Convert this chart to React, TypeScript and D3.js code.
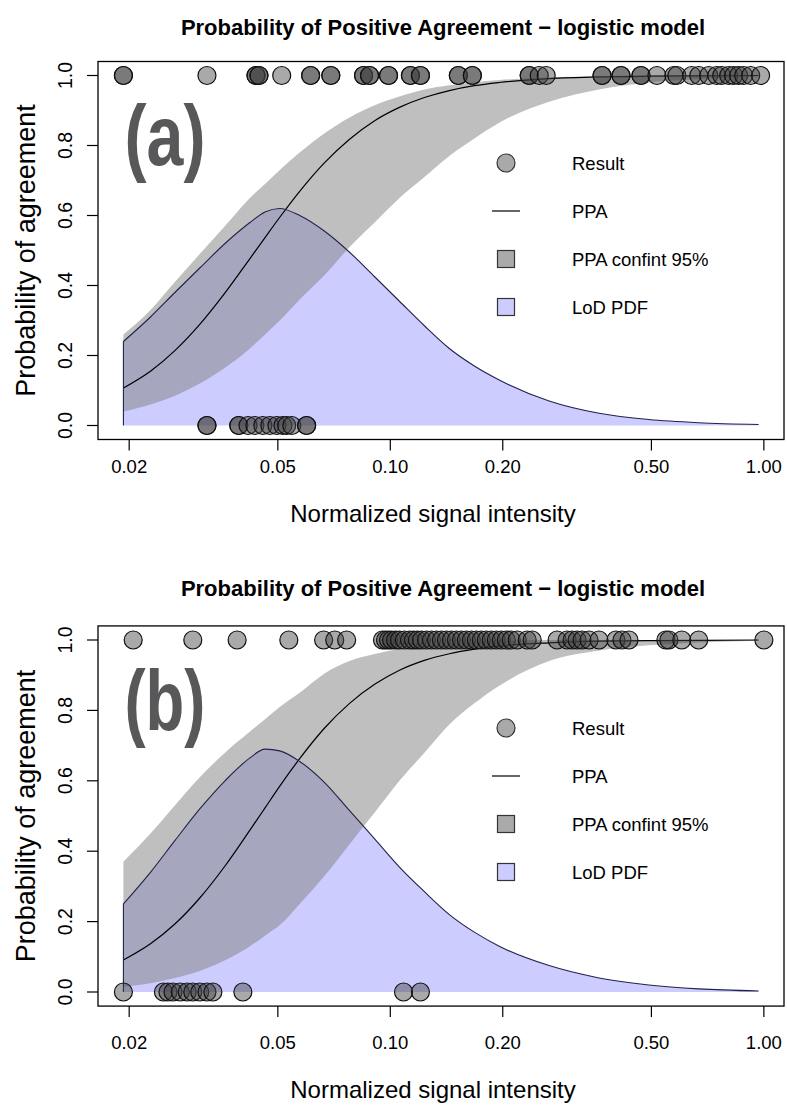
import * as d3 from "d3";
import React from "react";

// shared grid of signal intensities for the model curves
const xGrid = [0.0193, 0.0228, 0.0265, 0.0309, 0.0361, 0.0421, 0.0462, 0.0506, 0.0572, 0.0667, 0.0778, 0.0908, 0.1058, 0.1234, 0.1439, 0.1679, 0.1957, 0.2662, 0.362, 0.4924, 0.669, 0.968];

// panel (a)
const ppaA = [0.107, 0.155, 0.214, 0.289, 0.379, 0.477, 0.537, 0.595, 0.669, 0.751, 0.818, 0.871, 0.909, 0.937, 0.957, 0.971, 0.98, 0.991, 0.996, 0.998, 0.999, 1.0];
const upperA = [0.26, 0.33, 0.41, 0.49, 0.57, 0.65, 0.69, 0.73, 0.78, 0.835, 0.88, 0.915, 0.94, 0.96, 0.972, 0.981, 0.987, 0.995, 0.998, 1, 1, 1];
const lowerA = [0.04, 0.06, 0.085, 0.12, 0.165, 0.22, 0.26, 0.3, 0.36, 0.43, 0.51, 0.58, 0.65, 0.71, 0.77, 0.82, 0.865, 0.925, 0.96, 0.98, 0.99, 0.997];
const pdfA = [0.24, 0.31, 0.38, 0.45, 0.52, 0.58, 0.61, 0.62, 0.6, 0.555, 0.495, 0.425, 0.355, 0.285, 0.22, 0.17, 0.13, 0.07, 0.035, 0.017, 0.008, 0.003];
const posA = [0.0193, 0.0193, 0.0323, 0.0437, 0.0437, 0.0445, 0.0445, 0.0512, 0.0612, 0.0612, 0.0693, 0.0693, 0.0848, 0.0848, 0.088, 0.088, 0.0989, 0.0989, 0.1132, 0.1132, 0.1204, 0.1204, 0.1521, 0.1521, 0.1658, 0.1658, 0.2354, 0.2354, 0.2504, 0.2614, 0.3688, 0.3688, 0.4145, 0.4145, 0.4688, 0.4688, 0.5172, 0.5742, 0.5848, 0.6412, 0.6694, 0.7118, 0.7478, 0.7712, 0.805, 0.83, 0.856, 0.883, 0.922, 0.98];
const negA = [0.0323, 0.0323, 0.0393, 0.0393, 0.0416, 0.0434, 0.0456, 0.0476, 0.0497, 0.0516, 0.0528, 0.0545, 0.0597, 0.0597];

// panel (b)
const ppaB = [0.091, 0.137, 0.193, 0.267, 0.358, 0.46, 0.523, 0.585, 0.663, 0.75, 0.82, 0.874, 0.914, 0.942, 0.961, 0.974, 0.983, 0.992, 0.997, 0.998, 0.999, 1.0];
const upperB = [0.37, 0.45, 0.53, 0.61, 0.68, 0.74, 0.775, 0.81, 0.85, 0.905, 0.94, 0.96, 0.975, 0.985, 0.99, 0.994, 0.997, 1, 1, 1, 1, 1];
const lowerB = [0.015, 0.025, 0.04, 0.06, 0.09, 0.13, 0.16, 0.19, 0.25, 0.33, 0.42, 0.51, 0.6, 0.68, 0.76, 0.82, 0.87, 0.94, 0.97, 0.985, 0.993, 0.998];
const pdfB = [0.25, 0.34, 0.43, 0.52, 0.6, 0.665, 0.69, 0.685, 0.655, 0.595, 0.515, 0.435, 0.355, 0.285, 0.22, 0.17, 0.13, 0.075, 0.04, 0.02, 0.009, 0.003];
const posB = [0.0205, 0.0296, 0.0389, 0.0535, 0.0663, 0.071, 0.0764, 0.0953, 0.0971, 0.0989, 0.1008, 0.1033, 0.1058, 0.1091, 0.1126, 0.1154, 0.1182, 0.1212, 0.125, 0.1289, 0.1329, 0.137, 0.1413, 0.1457, 0.1503, 0.155, 0.1598, 0.1648, 0.1699, 0.1752, 0.1807, 0.1863, 0.1922, 0.1982, 0.2044, 0.2107, 0.2187, 0.2325, 0.2398, 0.2796, 0.2974, 0.3067, 0.3162, 0.3261, 0.3404, 0.362, 0.4018, 0.417, 0.4354, 0.5466, 0.5568, 0.603, 0.669, 1.0];
const negB = [0.0193, 0.0247, 0.0254, 0.0262, 0.0274, 0.0286, 0.0296, 0.0309, 0.0323, 0.0335, 0.0403, 0.1085, 0.1204];

const xTicks = [0.02, 0.05, 0.1, 0.2, 0.5, 1.0];
const xTickLabels = ["0.02", "0.05", "0.10", "0.20", "0.50", "1.00"];
const yTicks = [0, 0.2, 0.4, 0.6, 0.8, 1.0];
const yTickLabels = ["0.0", "0.2", "0.4", "0.6", "0.8", "1.0"];
const legendLabels = ["Result", "PPA", "PPA confint 95%", "LoD PDF"];

const TITLE = "Probability of Positive Agreement \u2212 logistic model";
const FONT = "'Liberation Sans', Arial, Helvetica, sans-serif";

const W = 787;
const H = 1105;
const LEFT = 98;
const RIGHT = 784;

// R style 4% padding on a log axis
const lo = d3.min(xGrid);
const hi = d3.max(xGrid);
const pad = (Math.log10(hi) - Math.log10(lo)) * 0.04;
const x = d3
  .scaleLog()
  .domain([Math.pow(10, Math.log10(lo) - pad), Math.pow(10, Math.log10(hi) + pad)])
  .range([LEFT, RIGHT]);

function Panel({ label, y0, y1, ppa, upper, lower, pdf, pos, neg, titleY, tickLabelGap, xTitleGap }) {
  const y = d3.scaleLinear().domain([0, 1]).range([y0, y1]);
  const top = y(1.04);
  const bottom = y(-0.04);

  const rows = xGrid.map((v, i) => ({ v, ppa: ppa[i], up: upper[i], lo: lower[i], pdf: pdf[i] }));

  const band = d3
    .area()
    .x((d) => x(d.v))
    .y0((d) => y(d.lo))
    .y1((d) => y(d.up))
    .curve(d3.curveMonotoneX);
  const pdfArea = d3
    .area()
    .x((d) => x(d.v))
    .y0(y(0))
    .y1((d) => y(d.pdf))
    .curve(d3.curveMonotoneX);
  const pdfLine = d3
    .line()
    .x((d) => x(d.v))
    .y((d) => y(d.pdf))
    .curve(d3.curveMonotoneX);
  const ppaLine = d3
    .line()
    .x((d) => x(d.v))
    .y((d) => y(d.ppa))
    .curve(d3.curveMonotoneX);

  const lx = 506;
  const ltx = 572;
  const ly = y(0.75);
  const lstep = 48;

  return (
    <g>
      <text x={443} y={titleY} textAnchor="middle" fontSize={22} fontWeight="bold" fontFamily={FONT}>
        {TITLE}
      </text>

      <path d={pdfArea(rows)} fill="#ccccff" />
      <path d={band(rows)} fill="rgba(128,128,128,0.5)" />
      <path d={ppaLine(rows)} fill="none" stroke="#000" strokeWidth={1.2} />
      <path
        d={"M" + x(xGrid[0]) + "," + y(0) + "L" + pdfLine(rows).slice(1)}
        fill="none"
        stroke="#22224a"
        strokeWidth={1.1}
      />

      {pos.map((v, i) => (
        <circle key={"p" + i} cx={x(v)} cy={y(1)} r={9} fill="rgba(64,64,64,0.45)" stroke="#111" strokeWidth={1.2} />
      ))}
      {neg.map((v, i) => (
        <circle key={"n" + i} cx={x(v)} cy={y(0)} r={9} fill="rgba(64,64,64,0.45)" stroke="#111" strokeWidth={1.2} />
      ))}

      <text x={165} y={y(0.745)} textAnchor="middle" fontSize={86} fontWeight="bold" fill="#58585a" fontFamily={FONT} textLength={81} lengthAdjust="spacingAndGlyphs">
        {label}
      </text>

      {/* legend */}
      <circle cx={lx} cy={ly} r={9} fill="#a9a9a9" stroke="#333" strokeWidth={1.2} />
      <line x1={lx - 14} x2={lx + 14} y1={ly + lstep} y2={ly + lstep} stroke="#000" strokeWidth={1.2} />
      <rect x={lx - 8.5} y={ly + 2 * lstep - 8.5} width={17} height={17} fill="#aaaaaa" stroke="#333" strokeWidth={1.2} />
      <rect x={lx - 8.5} y={ly + 3 * lstep - 8.5} width={17} height={17} fill="#ccccff" stroke="#333" strokeWidth={1.2} />
      {legendLabels.map((t, i) => (
        <text key={t} x={ltx} y={ly + i * lstep + 6.5} fontSize={18.5} fontFamily={FONT}>
          {t}
        </text>
      ))}

      <rect x={LEFT} y={top} width={RIGHT - LEFT} height={bottom - top} fill="none" stroke="#000" strokeWidth={1.3} />

      {/* y axis */}
      {yTicks.map((t, i) => (
        <g key={"y" + i}>
          <line x1={LEFT - 11} x2={LEFT} y1={y(t)} y2={y(t)} stroke="#000" strokeWidth={1.2} />
          <text
            transform={`translate(${LEFT - 26},${y(t)}) rotate(-90)`}
            textAnchor="middle"
            fontSize={19.5}
            fontFamily={FONT}
          >
            {yTickLabels[i]}
          </text>
        </g>
      ))}
      <text
        transform={`translate(35,${(top + bottom) / 2}) rotate(-90)`}
        textAnchor="middle"
        fontSize={27}
        fontFamily={FONT}
      >
        Probability of agreement
      </text>

      {/* x axis */}
      {xTicks.map((t, i) => (
        <g key={"x" + i}>
          <line x1={x(t)} x2={x(t)} y1={bottom} y2={bottom + 11} stroke="#000" strokeWidth={1.2} />
          <text x={x(t)} y={bottom + tickLabelGap} textAnchor="middle" fontSize={18.5} fontFamily={FONT}>
            {xTickLabels[i]}
          </text>
        </g>
      ))}
      <text x={433} y={bottom + xTitleGap} textAnchor="middle" fontSize={24} fontFamily={FONT}>
        Normalized signal intensity
      </text>
    </g>
  );
}

export default function App() {
  return (
    <svg width={W} height={H} style={{ display: "block", position: "absolute", left: 0, top: 0, background: "#fff" }}>
      <rect width={W} height={H} fill="#fff" />
      <Panel
        label="(a)"
        y0={425.5}
        y1={75.5}
        ppa={ppaA}
        upper={upperA}
        lower={lowerA}
        pdf={pdfA}
        pos={posA}
        neg={negA}
        titleY={35}
        tickLabelGap={33}
        xTitleGap={82}
      />
      <Panel
        label="(b)"
        y0={992}
        y1={640}
        ppa={ppaB}
        upper={upperB}
        lower={lowerB}
        pdf={pdfB}
        pos={posB}
        neg={negB}
        titleY={596}
        tickLabelGap={43}
        xTitleGap={92}
      />
    </svg>
  );
}
